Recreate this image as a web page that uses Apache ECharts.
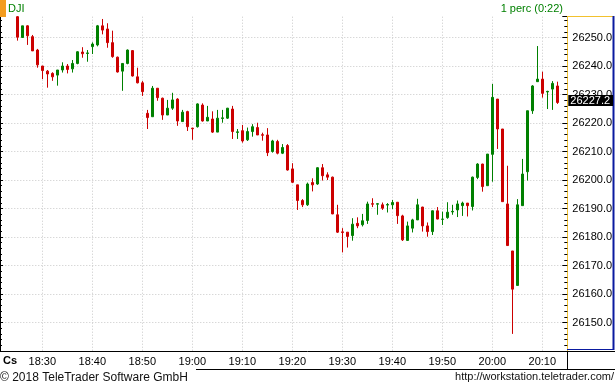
<!DOCTYPE html>
<html><head><meta charset="utf-8">
<script src="https://cdn.jsdelivr.net/npm/echarts@6/dist/echarts.min.js"></script>
<style>html,body{margin:0;padding:0;background:#fff;overflow:hidden}#c{width:615px;height:387px}</style>
</head><body><div id="c"></div>
<script>
// 1-minute candles, DJI, 18:25 .. 20:13
const firstMinute = '18:25';
const openP = [26257.3,26250.0,26254.1,26250.3,26245.6,26240.0,26238.2,26237.4,26236.8,26238.6,
26240.0,26239.0,26240.9,26244.9,26244.4,26246.8,26247.4,26254.1,26253.0,26248.2,
26243.1,26238.2,26240.9,26245.4,26236.2,26234.1,26223.4,26222.2,26232.2,26228.7,
26222.8,26225.2,26228.4,26220.5,26224.0,26218.2,26218.7,26226.3,26220.7,26221.4,
26216.8,26221.6,26221.7,26224.9,26216.7,26217.3,26214.1,26217.0,26218.4,26215.9,
26215.8,26210.0,26213.5,26209.4,26212.1,26203.9,26198.3,26192.8,26191.3,26199.1,
26198.6,26204.3,26201.8,26201.0,26187.8,26181.8,26181.7,26180.5,26184.8,26184.3,
26185.8,26191.7,26191.5,26191.3,26191.2,26191.3,26192.2,26187.4,26178.8,26183.1,
26186.0,26190.5,26183.9,26181.9,26189.2,26186.2,26186.8,26188.8,26189.5,26191.0,
26191.9,26190.7,26200.9,26205.6,26198.0,26209.0,26228.4,26217.9,26191.6,26175.1,
26163.0,26191.0,26202.9,26224.3,26234.5,26235.4,26230.9,26231.9,26233.0];
const closeP = [26250.1,26254.1,26250.6,26245.3,26240.4,26238.4,26237.2,26236.2,26238.6,26240.0,
26238.8,26240.9,26245.0,26244.3,26244.6,26247.7,26254.1,26252.6,26248.2,26243.3,
26237.9,26240.9,26245.6,26236.5,26234.1,26231.0,26221.9,26232.2,26228.9,26222.8,
26225.2,26228.1,26220.7,26223.8,26218.7,26218.0,26226.7,26220.7,26222.0,26216.8,
26221.7,26221.8,26225.2,26217.0,26216.9,26213.7,26217.0,26218.7,26215.8,26215.7,
26209.6,26213.7,26209.4,26211.4,26203.5,26199.2,26192.8,26191.3,26198.6,26198.3,
26204.3,26201.5,26201.0,26188.1,26181.7,26181.6,26180.2,26184.5,26183.9,26185.7,
26191.6,26191.5,26191.7,26190.1,26191.4,26192.1,26187.5,26179.0,26183.9,26186.0,
26191.3,26183.9,26181.9,26189.2,26186.3,26186.3,26188.7,26189.0,26191.6,26191.9,
26191.0,26201.0,26205.6,26197.7,26209.1,26229.0,26217.9,26192.4,26177.0,26161.7,
26191.3,26202.1,26224.3,26233.0,26235.4,26230.4,26231.1,26233.9,26227.2];
const lowP = [26248.9,26250.0,26247.4,26245.3,26239.4,26235.4,26232.4,26234.8,26233.1,26237.7,
26237.4,26237.7,26240.6,26242.9,26241.5,26244.2,26246.9,26251.1,26246.4,26242.9,
26237.7,26231.3,26240.6,26236.3,26233.9,26229.5,26217.9,26222.2,26227.8,26221.1,
26222.8,26224.6,26219.0,26220.5,26217.2,26214.1,26218.4,26220.5,26220.7,26216.5,
26216.8,26220.1,26221.4,26214.4,26214.4,26213.1,26213.7,26215.2,26215.8,26213.8,
26208.4,26209.6,26209.0,26209.1,26203.3,26198.9,26189.5,26190.5,26190.9,26196.0,
26198.3,26199.8,26200.0,26188.0,26181.4,26174.6,26176.3,26178.7,26183.1,26183.7,
26184.6,26190.5,26187.8,26189.5,26188.6,26189.8,26184.6,26178.6,26178.8,26181.6,
26186.0,26181.9,26180.1,26180.7,26186.2,26184.2,26186.4,26187.8,26187.0,26187.4,
26187.2,26189.3,26200.3,26195.9,26198.0,26199.4,26210.9,26192.4,26177.0,26146.0,
26163.0,26191.0,26199.8,26223.2,26234.4,26228.9,26224.9,26224.6,26226.7];
const highP = [26257.5,26254.1,26254.3,26250.9,26246.0,26240.0,26238.6,26237.8,26238.6,26241.3,
26240.7,26242.1,26245.2,26246.6,26245.6,26248.3,26254.4,26256.5,26255.0,26252.4,
26243.3,26241.0,26245.8,26245.6,26239.4,26234.7,26224.6,26233.0,26232.2,26228.9,
26228.1,26230.6,26228.7,26224.6,26224.3,26218.3,26226.9,26226.9,26226.0,26224.1,
26224.6,26224.6,26225.3,26226.0,26217.9,26219.3,26218.4,26219.6,26220.1,26216.6,
26218.2,26214.1,26214.1,26212.6,26212.6,26205.9,26198.3,26193.3,26199.1,26200.6,
26204.5,26205.6,26202.7,26201.2,26191.3,26183.1,26181.7,26186.6,26186.9,26188.1,
26192.4,26193.6,26191.9,26192.1,26191.9,26193.0,26192.2,26187.8,26185.4,26186.4,
26193.4,26190.6,26185.1,26189.3,26190.5,26188.9,26192.2,26191.3,26192.8,26192.4,
26191.9,26201.2,26205.9,26205.7,26209.1,26233.7,26228.4,26217.9,26205.0,26175.1,
26193.3,26207.4,26224.3,26233.3,26247.0,26238.0,26231.3,26234.7,26234.5];
const xTickLabels = ['18:30','18:40','18:50','19:00','19:10','19:20','19:30','19:40','19:50','20:00','20:10'];
const yTickValues = [26150,26160,26170,26180,26190,26200,26210,26220,26230,26240,26250];
const padBefore = 3, padAfter = 2;

function fmt(m){const h=Math.floor(m/60),mm=m%60;return h+':'+(mm<10?'0':'')+mm;}
const [fh,fm] = firstMinute.split(':').map(Number);
const startM = fh*60+fm - padBefore;
const total = padBefore + openP.length + padAfter;
const cats = [];
for (let k=0;k<total;k++) cats.push(fmt(startM+k));
const candles = [];
for (let k=0;k<padBefore;k++) candles.push(['-','-','-','-']);
for (let i=0;i<openP.length;i++) candles.push([openP[i],closeP[i],lowP[i],highP[i]]);
for (let k=0;k<padAfter;k++) candles.push(['-','-','-','-']);
const lastClose = closeP[closeP.length-1];

const FONT = '"Liberation Sans", Arial, sans-serif';
const RED = '#cc0000', GREEN = '#008000', YEL = '#f2c12e', BLUE = '#0a1aa0';
const isTick = (idx) => xTickLabels.indexOf(cats[idx]) >= 0;

const chart = echarts.init(document.getElementById('c'), null, {renderer:'canvas'});
chart.setOption({
  animation:false,
  backgroundColor:'#fff',
  grid:{left:2.3, right:47.7, top:16.7, bottom:36, outerBoundsMode:'none', containLabel:false},
  xAxis:{
    type:'category', data:cats, boundaryGap:false,
    axisLine:{show:false},
    axisTick:{show:false},
    axisLabel:{interval:(i)=>isTick(i), color:'#000', fontFamily:FONT, fontSize:11, margin:5},
    splitLine:{show:true, interval:(i)=>isTick(i), lineStyle:{color:'#c8c8c8', type:[1,2], width:1}}
  },
  yAxis:[{
    type:'value', position:'right', min:26140, max:26257.3, interval:10,
    axisLine:{show:true, lineStyle:{color:YEL, width:1}},
    axisTick:{show:true, inside:true, length:5, lineStyle:{color:'#000'}},
    minorTick:{show:true, splitNumber:5, length:3, lineStyle:{color:'#000'}},
    axisLabel:{show:true, showMinLabel:false, showMaxLabel:false, color:'#000', fontFamily:FONT, fontSize:11, margin:5,
      formatter:(v)=> yTickValues.indexOf(v)>=0 ? v.toFixed(1) : ''},
    splitLine:{show:true, showMinLine:false, showMaxLine:false, lineStyle:{color:'#c8c8c8', type:[1,2], width:1}}
  },{
    type:'value', position:'left', min:26140, max:26257.3, interval:10, offset:2.3,
    axisLine:{show:true, lineStyle:{color:'#000', width:1}},
    axisTick:{show:true, inside:true, length:3, lineStyle:{color:'#000'}},
    minorTick:{show:true, splitNumber:5, length:2, lineStyle:{color:'#000'}},
    axisLabel:{show:false}, splitLine:{show:false}
  }],
  series:[{
    type:'candlestick', data:candles, yAxisIndex:0, barWidth:2,
    itemStyle:{color:GREEN, color0:RED, borderColor:GREEN, borderColor0:RED, borderWidth:1},
    markLine:{
      silent:true, symbol:['none','none'], animation:false, z:20,
      lineStyle:{color:'rgba(255,255,255,0)', width:1, type:'solid'},
      label:{show:true, position:'end', distance:1, offset:[0,-2], formatter:lastClose.toFixed(1), color:'#fff', backgroundColor:'#000',
        fontFamily:FONT, fontSize:11, lineHeight:11, padding:[0,3,0,2], opacity:1},
      emphasis:{disabled:true},
      data:[{yAxis:lastClose}]
    }
  }],
  graphic:[
    {type:'rect', shape:{x:0,y:0,width:6,height:17}, style:{fill:'#f39c1f'}, z:10},
    {type:'text', x:8, y:9, style:{text:'DJI', fill:GREEN, font:'11px '+FONT, textVerticalAlign:'middle'}, z:10},
    {type:'text', x:563, y:9, style:{text:'1 perc (0:22)', fill:GREEN, font:'11px '+FONT, textAlign:'right', textVerticalAlign:'middle'}, z:10},
    {type:'line', shape:{x1:567,y1:16.5,x2:613,y2:16.5}, style:{stroke:YEL, lineWidth:1}, z:10},
    {type:'line', shape:{x1:613.5,y1:16,x2:613.5,y2:350}, style:{stroke:BLUE, lineWidth:2}, z:10},
    {type:'line', shape:{x1:567,y1:349.5,x2:614,y2:349.5}, style:{stroke:BLUE, lineWidth:1}, z:10},
    {type:'line', shape:{x1:0,y1:351.5,x2:615,y2:351.5}, style:{stroke:'#000', lineWidth:1}, z:10},
    {type:'line', shape:{x1:567.5,y1:351,x2:567.5,y2:370}, style:{stroke:'#000', lineWidth:1}, z:10},
    {type:'line', shape:{x1:196,y1:369.5,x2:615,y2:369.5}, style:{stroke:'#000', lineWidth:1}, z:10},
    {type:'text', x:3, y:361, style:{text:'Cs', fill:'#000', font:'bold 11px '+FONT, textVerticalAlign:'middle'}, z:10},
    {type:'text', x:0, y:378, style:{text:'\u00a9 2018 TeleTrader Software GmbH', fill:'#111', font:'12px '+FONT, textVerticalAlign:'middle'}, z:10},
    {type:'text', x:614, y:377, style:{text:'http://workstation.teletrader.com/', fill:'#111', font:'11px '+FONT, textAlign:'right', textVerticalAlign:'middle'}, z:10}
  ]
});
</script></body></html>
